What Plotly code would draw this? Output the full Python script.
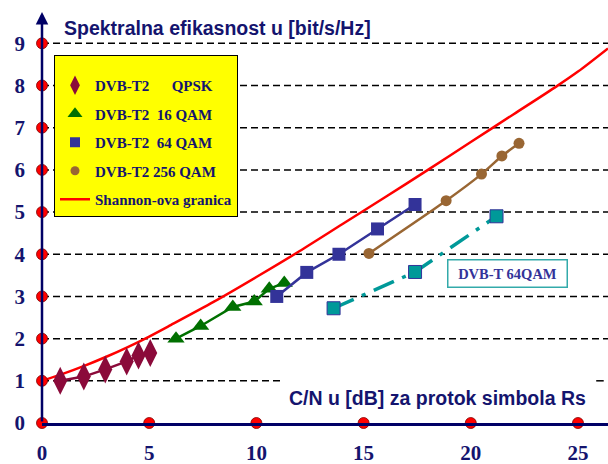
import plotly.graph_objects as go

# --- data -------------------------------------------------------------
qpsk_cn = [0.85, 1.95, 2.95, 3.95, 4.5, 5.05]
qpsk_se = [1.0, 1.1, 1.27, 1.46, 1.6, 1.66]

qam16_cn = [6.25, 7.4, 8.9, 9.9, 10.6, 11.3]
qam16_se = [2.0, 2.3, 2.75, 2.88, 3.18, 3.32]

qam64_cn = [10.95, 12.35, 13.85, 15.65, 17.4]
qam64_se = [3.0, 3.57, 4.0, 4.6, 5.18]

qam256_cn = [15.25, 18.85, 20.5, 21.45, 22.25]
qam256_se = [4.02, 5.27, 5.9, 6.33, 6.63]

dvbt_cn = [13.6, 17.4, 21.2]
dvbt_se = [2.72, 3.58, 4.9]

shannon_cn = [0, 1, 2, 3, 4, 5, 6, 8, 10, 12, 14, 16, 18, 20, 22, 24, 25, 26.4]
shannon_se = [1.0, 1.17, 1.36, 1.57, 1.8, 2.05, 2.32, 2.87, 3.46, 4.07, 4.71,
              5.35, 6.0, 6.66, 7.32, 7.98, 8.33, 8.88]

x_ticks = [0, 5, 10, 15, 20, 25]
y_ticks = [0, 1, 2, 3, 4, 5, 6, 7, 8, 9]
grid_levels = [2, 3, 4, 5, 6, 7, 8, 9]

X_MAX = 26.4
Y_MAX = 9.79

NAVY = "#14146e"
SERIF = "Liberation Serif"
SANS = "Liberation Sans"

# name, x, y, colour, symbol, plot size, legend size, line shape
series = [
    ("DVB-T2\u00a0\u00a0\u00a0\u00a0\u00a0\u00a0QPSK", qpsk_cn, qpsk_se, "#8b0a3a", "diamond-tall", 20, 14, "linear"),
    ("DVB-T2\u00a0\u00a016 QAM", qam16_cn, qam16_se, "#007000", "triangle-up", 15, 13, "linear"),
    ("DVB-T2\u00a0\u00a064 QAM", qam64_cn, qam64_se, "#333399", "square", 13, 10, "linear"),
    ("DVB-T2 256 QAM", qam256_cn, qam256_se, "#996633", "circle", 11, 9, "spline"),
]

fig = go.Figure()

# Shannon limit
fig.add_trace(go.Scatter(
    x=shannon_cn, y=shannon_se, mode="lines", name="Shannon-ova granica",
    line=dict(color="#ff0000", width=2.5, shape="spline", smoothing=0.8),
    legendgroup="g5", legendrank=5,
))

# DVB-T2 modulations: plotted curve plus a marker-only legend entry
for i, (name, xs, ys, col, sym, size, lsize, shape) in enumerate(series):
    fig.add_trace(go.Scatter(
        x=xs, y=ys, mode="lines+markers", showlegend=False,
        line=dict(color=col, width=2.5, shape=shape, smoothing=0.5),
        marker=dict(symbol=sym, size=size, color=col),
    ))
    fig.add_trace(go.Scatter(
        x=[None], y=[None], mode="markers", name=name,
        marker=dict(symbol=sym, size=lsize, color=col),
        legendgroup=f"g{i + 1}", legendrank=i + 1,
    ))

# DVB-T reference
fig.add_trace(go.Scatter(
    x=dvbt_cn, y=dvbt_se, mode="lines+markers", name="DVB-T 64QAM",
    line=dict(color="#009999", width=3.5, dash="22px,9px,4px,9px"),
    marker=dict(symbol="square", size=13, color="#009999",
                line=dict(color="#333399", width=1)),
    showlegend=False,
))

# red dots marking the ticks on both axes
fig.add_trace(go.Scatter(
    x=[0] * len(y_ticks) + x_ticks[1:], y=y_ticks + [0] * (len(x_ticks) - 1),
    mode="markers", showlegend=False, cliponaxis=False, hoverinfo="skip",
    marker=dict(symbol="circle", size=11, color="#ff0000",
                line=dict(color="#800000", width=0.8)),
))

# dashed horizontal guides
shapes = []
for lv in grid_levels:
    shapes.append(dict(type="line", xref="x", yref="y", x0=0, x1=X_MAX, y0=lv, y1=lv,
                       line=dict(color="black", width=1.5, dash="7px,4px"), layer="below"))
shapes.append(dict(type="line", xref="x", yref="y", x0=0, x1=11.2, y0=1, y1=1,
                   line=dict(color="black", width=1.5, dash="7px,4px"), layer="below"))
shapes.append(dict(type="line", xref="x", yref="y", x0=25.85, x1=26.2, y0=1, y1=1,
                   line=dict(color="black", width=1.5), layer="below"))


def to_paper(px, py):
    # page pixels -> paper coordinates of the plot area
    return (px - 42) / 566, (423 - py) / 413


tx, ty = to_paper(62, 28)
cx, cy = to_paper(588, 398)

annotations = [
    # y axis with arrow head
    dict(x=0, y=Y_MAX - 0.05, ax=0, ay=0, xref="x", yref="y", axref="x", ayref="y",
         text="", showarrow=True, arrowhead=2, arrowsize=1, arrowwidth=2.5,
         arrowcolor="#000066", standoff=0, startstandoff=0),
    dict(x=tx, y=ty, xref="paper", yref="paper", text="Spektralna efikasnost u [bit/s/Hz]",
         showarrow=False, xanchor="left", yanchor="middle",
         font=dict(family=SANS, size=19.5, color=NAVY, weight="bold")),
    dict(x=cx, y=cy, xref="paper", yref="paper", text="C/N u [dB] za protok simbola Rs",
         showarrow=False, xanchor="right", yanchor="middle",
         font=dict(family=SANS, size=19.5, color=NAVY, weight="bold")),
    dict(x=21.71, y=3.54, xref="x", yref="y", text="DVB-T 64QAM", showarrow=False,
         bgcolor="white", bordercolor="#33aaaa", borderwidth=1.5, borderpad=5,
         width=108, font=dict(family=SERIF, size=14.5, color="#333399", weight="bold")),
]

lx, ly = to_paper(54, 55)

fig.update_layout(
    width=608, height=464,
    margin=dict(l=42, r=0, t=10, b=41),
    paper_bgcolor="white", plot_bgcolor="white",
    shapes=shapes, annotations=annotations,
    showlegend=True,
    legend=dict(
        x=lx, y=ly, xanchor="left", yanchor="top",
        bgcolor="#ffff00", bordercolor="black", borderwidth=1,
        font=dict(family=SERIF, size=15, color=NAVY, weight="bold"),
        title=dict(text="\u00a0", font=dict(size=10)),
        traceorder="grouped", tracegroupgap=6,
    ),
    xaxis=dict(
        range=[0, X_MAX], tickvals=x_ticks, showgrid=False, zeroline=False,
        showline=True, linecolor="#000066", linewidth=2.5,
        ticks="", ticklabelstandoff=9, automargin=False,
        tickfont=dict(family=SERIF, size=21, color=NAVY, weight="bold"),
    ),
    yaxis=dict(
        range=[0, Y_MAX], tickvals=y_ticks, showgrid=False, zeroline=False,
        showline=False, ticks="", ticklabelstandoff=16, automargin=False,
        tickfont=dict(family=SERIF, size=21, color=NAVY, weight="bold"),
    ),
)

fig.write_html("out.html")
